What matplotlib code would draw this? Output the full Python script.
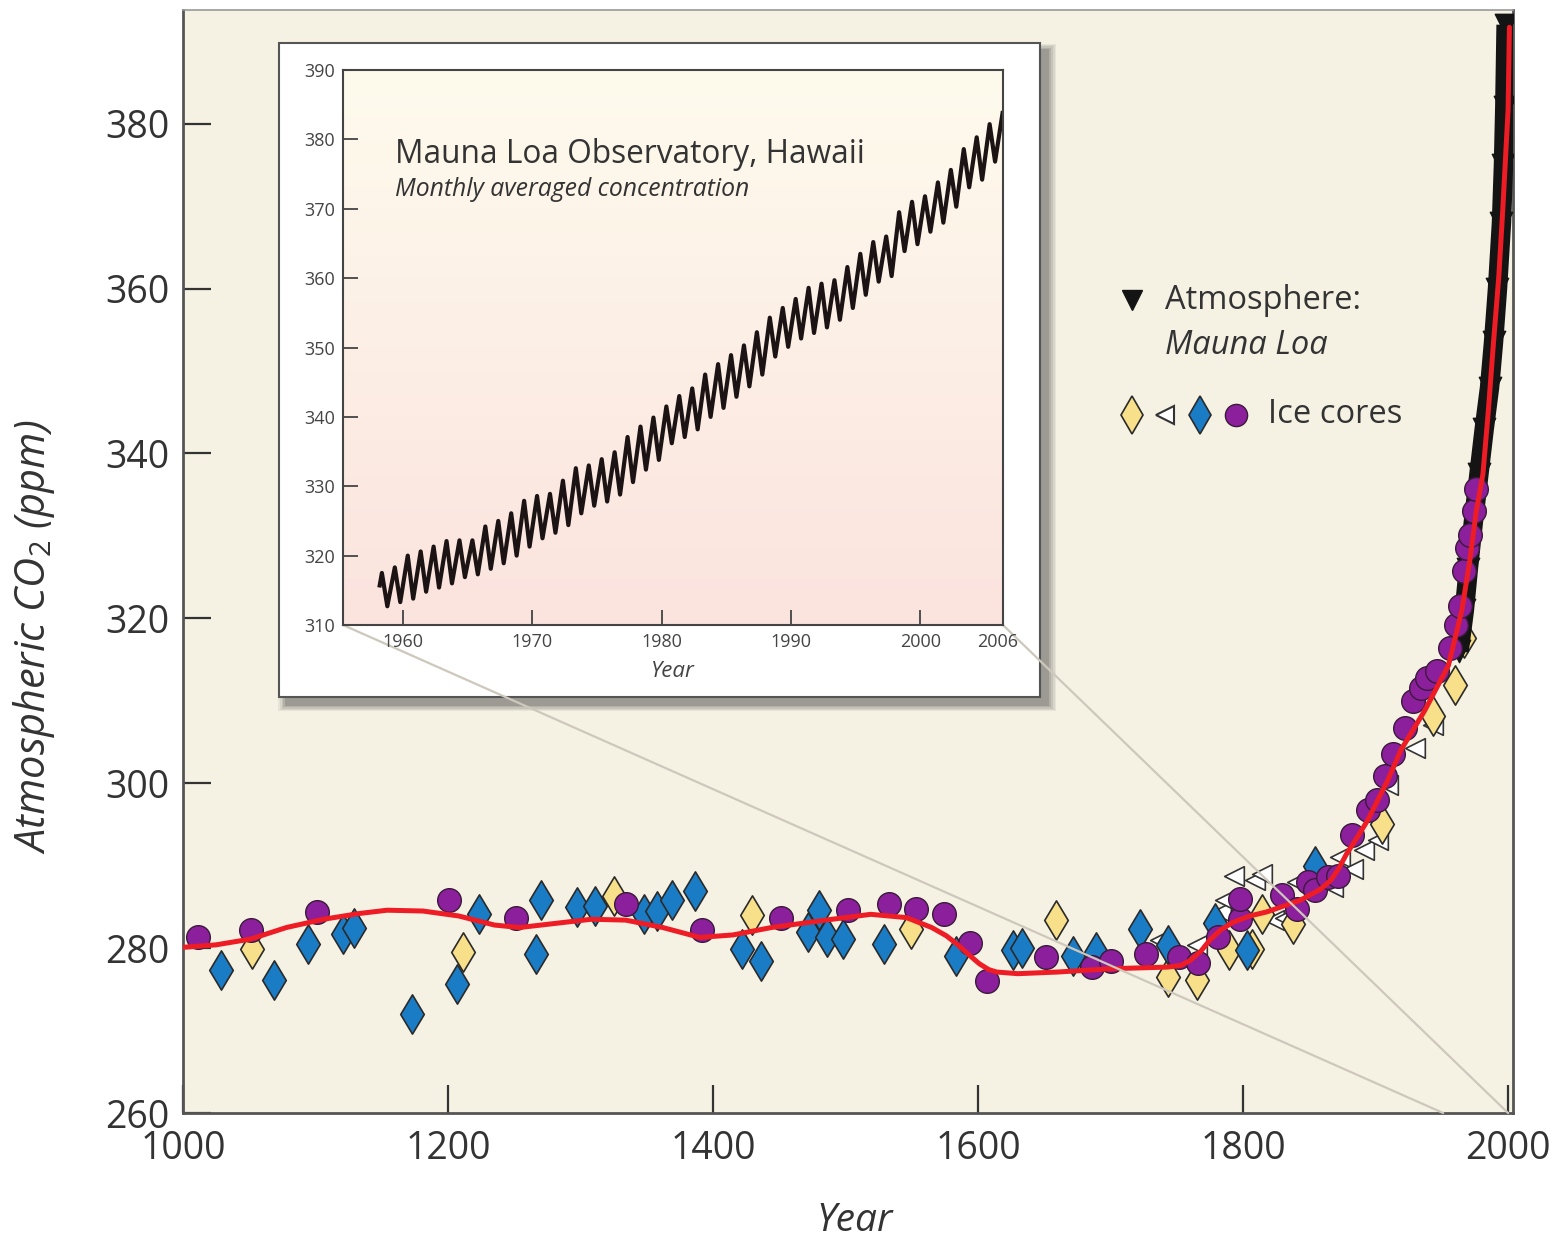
import matplotlib
matplotlib.use('Agg')
import matplotlib.pyplot as plt
import numpy as np
from matplotlib.patches import Rectangle, ConnectionPatch

plt.rcParams['font.family'] = ['Open Sans', 'DejaVu Sans']
plt.rcParams['mathtext.fontset'] = 'custom'
plt.rcParams['mathtext.rm'] = 'Open Sans'
plt.rcParams['mathtext.it'] = 'Open Sans:italic'

# smoothed fit (red curve)
fit_year = [1000, 1025, 1051, 1078, 1106, 1133, 1154, 1181, 1208, 1235, 1254, 1281,
            1308, 1334, 1362, 1390, 1415, 1444, 1485, 1519, 1546, 1565, 1576, 1584, 1593,
            1601, 1608, 1614, 1630, 1660, 1700, 1743, 1753, 1760, 1768, 1775, 1783, 1792,
            1805, 1818, 1843, 1858, 1866, 1872, 1878, 1886, 1894, 1909, 1919, 1937, 1955,
            1965, 1971, 1976, 1981, 1985, 1989, 1993, 1996, 2000, 2001]
fit_ppm = [280.1, 280.4, 281.1, 282.5, 283.5, 284.2, 284.6, 284.5, 283.9, 282.8, 282.5, 283.0,
           283.5, 283.4, 282.5, 281.3, 281.6, 282.5, 283.4, 284.1, 283.7, 282.5, 281.5, 280.5, 279.2,
           278.1, 277.4, 277.1, 276.9, 277.1, 277.5, 277.7, 277.9, 278.5, 279.6, 281.0, 282.2, 283.1,
           283.9, 284.4, 285.8, 287.1, 288.2, 289.6, 291.4, 293.4, 295.5, 300.3, 304.0, 308.8, 314.3,
           320.9, 326.9, 333.0, 337.5, 345.0, 353.5, 361.5, 369.6, 381.7, 391.7]

# ice core records
circle_year = [1011, 1051, 1101, 1201, 1251, 1334, 1392, 1451, 1502, 1533, 1553, 1574,
               1594, 1607, 1651, 1686, 1700, 1727, 1752, 1766, 1781, 1798, 1798, 1829,
               1841, 1849, 1854, 1864, 1872, 1882, 1894, 1901, 1907, 1913, 1922, 1928,
               1934, 1939, 1946, 1956, 1961, 1964, 1967, 1969, 1971, 1974, 1976]
circle_ppm = [281.3, 282.2, 284.4, 285.8, 283.7, 285.3, 282.2, 283.7, 284.6, 285.3, 284.7, 284.1,
              280.6, 276.0, 278.9, 277.7, 278.4, 279.3, 278.9, 278.2, 281.3, 283.5, 285.9, 286.5,
              284.7, 288.0, 287.0, 288.6, 288.8, 293.7, 296.7, 298.0, 300.9, 303.6, 306.7, 310.0,
              311.6, 312.8, 313.6, 316.4, 319.2, 321.5, 325.7, 328.5, 330.1, 333.0, 335.7]

blue_year = [1029, 1069, 1094, 1121, 1129, 1173, 1207, 1223, 1266, 1270, 1297, 1311,
             1348, 1358, 1369, 1386, 1422, 1436, 1472, 1480, 1486, 1498, 1529, 1583,
             1626, 1633, 1672, 1689, 1722, 1743, 1779, 1803, 1854]
blue_ppm = [277.3, 276.1, 280.5, 281.7, 282.5, 272.0, 275.6, 284.1, 279.3, 285.8, 285.0, 285.1,
            284.1, 284.5, 285.8, 286.9, 279.9, 278.4, 281.9, 284.6, 281.3, 281.1, 280.5, 279.0,
            279.8, 280.0, 279.0, 279.5, 282.3, 280.4, 283.1, 279.8, 290.0]

yellow_year = [1052, 1211, 1325, 1429, 1549, 1659, 1743, 1765, 1789, 1807, 1814, 1838,
               1905, 1943, 1960, 1967]
yellow_ppm = [279.9, 279.5, 286.3, 284.0, 282.3, 283.4, 276.5, 276.1, 279.8, 279.9, 284.1, 282.9,
              295.0, 308.2, 311.9, 317.6]

tri_year = [1737, 1765, 1783, 1786, 1793, 1809, 1814, 1823, 1832, 1841, 1868, 1873,
            1883, 1891, 1902, 1909, 1930, 1943]
tri_ppm = [281.0, 280.4, 284.4, 285.8, 288.8, 288.3, 289.0, 283.4, 283.7, 288.0, 287.4, 291.0,
           289.6, 291.9, 293.1, 299.8, 304.3, 307.1]

# Mauna Loa as drawn on the main panel
mlo_main_year = [1963, 1967, 1970, 1974, 1978, 1982, 1986, 1989, 1992, 1995, 1996.5, 1997.5, 1998.5]
mlo_main_ppm = [316, 321, 326, 332, 337.5, 343, 348, 353.5, 360, 368, 375, 382, 392]

# Mauna Loa monthly record (inset): yearly May highs and Oct lows
mlo_years = list(range(1958, 2006))
mlo_start = 315.7
mlo_may = [317.5, 318.3, 320.0, 320.6, 321.3, 322.1, 322.2, 322.2, 324.2, 325.0, 326.1, 327.9,
           328.6, 328.9, 330.8, 332.6, 333.0, 333.9, 334.9, 337.1, 338.6, 339.9, 341.5, 343.0,
           344.1, 346.1, 347.6, 348.9, 350.3, 352.2, 354.3, 355.7, 357.0, 358.6, 359.2, 359.7,
           361.6, 363.5, 365.2, 366.0, 369.5, 371.0, 371.8, 373.8, 375.6, 378.6, 380.3, 382.2]
mlo_oct = [312.7, 313.3, 313.8, 314.8, 315.4, 316.0, 316.9, 317.3, 318.1, 318.9, 320.0, 321.3,
           322.5, 323.3, 324.4, 326.1, 327.2, 327.8, 328.8, 330.6, 332.4, 333.8, 336.2, 337.1,
           338.2, 340.0, 341.3, 342.9, 344.4, 346.1, 348.7, 350.1, 351.3, 352.1, 352.9, 354.0,
           355.7, 357.6, 359.5, 360.3, 363.9, 364.9, 366.7, 368.0, 370.3, 373.1, 374.2, 376.8]
mlo_end = 383.8

purple = '#8c1f9c'
blue = '#1b7cc6'
yellow = '#f8df8a'
edge = '#2a2a2a'

fig = plt.figure(figsize=(15.54, 12.44), dpi=100)
fig.patch.set_facecolor('white')
ax = fig.add_axes([0.1178, 0.1053, 0.8559, 0.8867])
ax.set_facecolor('#f5f2e4')
ax.set_xlim(1000, 2003.8)
ax.set_ylim(260, 393.8)

ax.scatter(tri_year, tri_ppm, marker='<', s=200, facecolor='white', edgecolor='#333333',
           linewidth=1.2, zorder=2)
ax.scatter(yellow_year, yellow_ppm, marker='d', s=400, facecolor=yellow, edgecolor=edge,
           linewidth=1.2, zorder=3)
ax.scatter(blue_year, blue_ppm, marker='d', s=400, facecolor=blue, edgecolor=edge,
           linewidth=1.2, zorder=3)
ax.plot(mlo_main_year, mlo_main_ppm, color='#141414', lw=14, solid_capstyle='butt', zorder=4)
ax.scatter(mlo_main_year, mlo_main_ppm, marker='v', s=260, color='#141414', zorder=4)
ax.scatter(circle_year, circle_ppm, marker='o', s=290, facecolor=purple, edgecolor='#3a1a3a',
           linewidth=1.0, zorder=5)
ax.plot(fit_year, fit_ppm, color='#ee1c24', lw=3.6, zorder=6, solid_capstyle='round',
        solid_joinstyle='round')

ax.set_xticks(range(1000, 2001, 200))
ax.set_yticks(range(260, 381, 20))
ax.tick_params(direction='in', length=20, width=1.6, color='#333333', labelsize=27,
               labelcolor='#333333')
ax.tick_params(axis='x', pad=12)
ax.tick_params(axis='y', pad=10)
for side in ['left', 'bottom', 'right']:
    ax.spines[side].set_color('#555555')
    ax.spines[side].set_linewidth(2.0)
ax.spines['top'].set_color('#999999')
ax.spines['top'].set_linewidth(1.2)

ax.set_xlabel('Year', fontsize=28, style='italic', color='#333333')
ax.xaxis.set_label_coords(0.505, -0.081)
ax.set_ylabel(r'Atmospheric CO$_2$ (ppm)', fontsize=30, style='italic', color='#333333')
ax.yaxis.set_label_coords(-0.095, 0.4315)

# legend drawn by hand
ax.plot([0.7135], [0.737], marker='v', ms=15, color='#141414', transform=ax.transAxes,
        clip_on=False, zorder=7)
ax.text(0.738, 0.737, 'Atmosphere:', transform=ax.transAxes, fontsize=23.5, va='center',
        color='#333333')
ax.text(0.738, 0.696, 'Mauna Loa', transform=ax.transAxes, fontsize=23.5, va='center',
        style='italic', color='#333333')
ax.plot([0.7135], [0.633], marker='d', ms=19, mfc=yellow, mec=edge, mew=1.2,
        transform=ax.transAxes, clip_on=False, zorder=7)
ax.plot([0.738], [0.633], marker='<', ms=13, mfc='white', mec='#333333', mew=1.5,
        transform=ax.transAxes, clip_on=False, zorder=7)
ax.plot([0.7647], [0.633], marker='d', ms=19, mfc=blue, mec=edge, mew=1.2,
        transform=ax.transAxes, clip_on=False, zorder=7)
ax.plot([0.7917], [0.633], marker='o', ms=16, mfc=purple, mec='#3a1a3a', mew=1.0,
        transform=ax.transAxes, clip_on=False, zorder=7)
ax.text(0.8158, 0.633, 'Ice cores', transform=ax.transAxes, fontsize=23.5, va='center',
        color='#333333')

# inset frame with shadow
fx, fy, fw, fh = 0.1795, 0.4397, 0.4897, 0.5257
for i, a in enumerate([0.08, 0.09, 0.11, 0.14, 0.2]):
    grow = (5 - i) * 0.0022
    fig.add_artist(Rectangle((fx + 0.005 - grow / 2, fy - 0.006 - grow / 2), fw + grow, fh + grow,
                             transform=fig.transFigure, facecolor='#404040', edgecolor='none',
                             alpha=a, zorder=0.5))
fig.add_artist(Rectangle((fx, fy), fw, fh, transform=fig.transFigure, facecolor='white',
                         edgecolor='#555555', linewidth=1.5, zorder=1))

axin = fig.add_axes([0.2207, 0.4976, 0.4247, 0.4461], zorder=3)
grad = np.linspace(0, 1, 256).reshape(-1, 1)
top_c = np.array([254, 251, 237]) / 255
bot_c = np.array([251, 227, 222]) / 255
img = (1 - grad)[..., None] * top_c + grad[..., None] * bot_c
axin.imshow(img, extent=[1955.36, 2006.4, 310, 390], origin='upper', aspect='auto', zorder=0)
axin.set_xlim(1955.36, 2006.4)
axin.set_ylim(310, 390)

mlo_t = [1958.2]
mlo_v = [mlo_start]
for yr, hi, lo in zip(mlo_years, mlo_may, mlo_oct):
    mlo_t += [yr + 0.37, yr + 0.79]
    mlo_v += [hi, lo]
mlo_t.append(2006.37)
mlo_v.append(mlo_end)
axin.plot(mlo_t, mlo_v, color='#1c1414', lw=3.0, zorder=2)

axin.set_xticks([1960, 1970, 1980, 1990, 2000, 2006])
axin.set_yticks(range(310, 391, 10))
axin.tick_params(direction='in', length=11, width=1.3, color='#444444', labelsize=13,
                 labelcolor='#444444', pad=6)
axin.xaxis.get_major_ticks()[-1].tick1line.set_visible(False)
for s in axin.spines.values():
    s.set_color('#444444')
    s.set_linewidth(1.5)
axin.set_xlabel('Year', fontsize=16, style='italic', color='#444444', labelpad=7)
axin.text(0.079, 0.848, 'Mauna Loa Observatory, Hawaii', transform=axin.transAxes,
          fontsize=22.8, va='center', color='#333333')
axin.text(0.079, 0.785, 'Monthly averaged concentration', transform=axin.transAxes,
          fontsize=17.8, va='center', style='italic', color='#333333')

# lines linking the inset to the main panel
for xa, xb in [(1955.36, 1951), (2006.4, 2000)]:
    con = ConnectionPatch(xyA=(xa, 310), coordsA=axin.transData, xyB=(xb, 260),
                          coordsB=ax.transData, color='#cdc8bb', lw=1.6, zorder=2)
    fig.add_artist(con)

fig.savefig('out.png', dpi=100)
